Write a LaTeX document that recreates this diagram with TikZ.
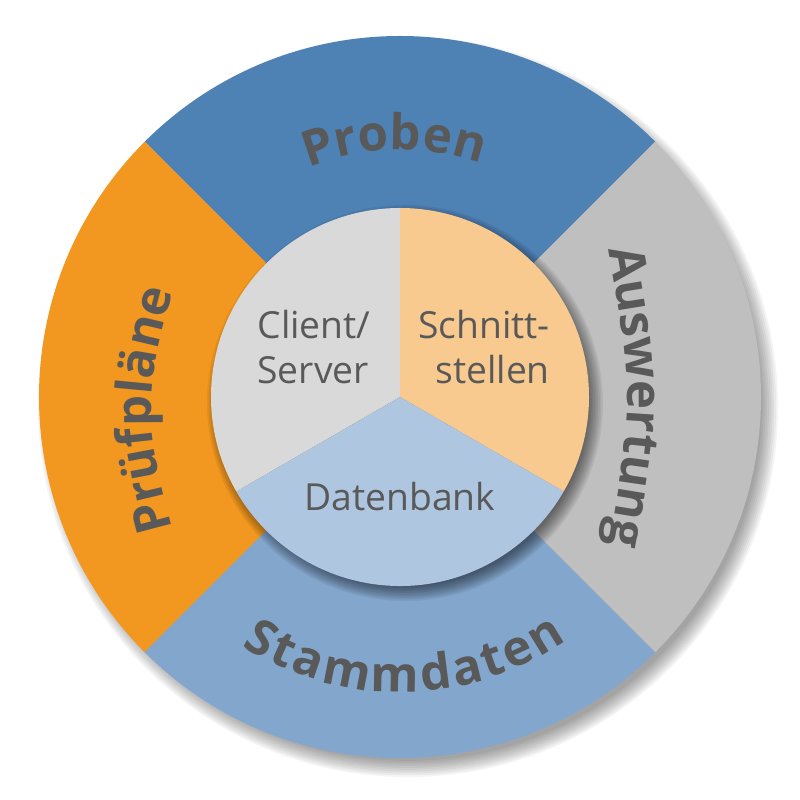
\documentclass[tikz,border=0pt]{standalone}
\usepackage{fontspec}
\setmainfont{Open Sans}
\usepackage{tikz}
\usetikzlibrary{decorations.text}
\definecolor{probenblue}{HTML}{4E81B4}
\definecolor{stammblue}{HTML}{83A6CC}
\definecolor{auswgray}{HTML}{BFBFBF}
\definecolor{pruforange}{HTML}{F2971F}
\definecolor{clientgray}{HTML}{D9D9D9}
\definecolor{schnittorange}{HTML}{F8CA8F}
\definecolor{datenblue}{HTML}{AEC6DF}
\definecolor{txtgray}{HTML}{595959}

\begin{document}
\begin{tikzpicture}[
  ringtext/.style={decorate,decoration={text along path,text align=center,text color=txtgray,
    text={|\fontsize{14}{17}\selectfont\bfseries|#1}}},
  innertext/.style={font=\fontsize{10.6}{12.9}\selectfont,text=txtgray,inner sep=0pt}]
\useasboundingbox (-4,-4.03) rectangle (4,3.97);
% soft shadows
\foreach \i in {1,...,10} \fill[black,opacity=0.045] (0.08,-0.10) circle ({3.52+\i*0.018});
\fill[probenblue] (0,0) -- (45:3.61) arc[start angle=45,end angle=135,radius=3.61] -- cycle;
\fill[pruforange] (0,0) -- (135:3.61) arc[start angle=135,end angle=225,radius=3.61] -- cycle;
\fill[stammblue] (0,0) -- (225:3.61) arc[start angle=225,end angle=315,radius=3.61] -- cycle;
\fill[auswgray] (0,0) -- (315:3.61) arc[start angle=315,end angle=405,radius=3.61] -- cycle;
\foreach \i in {1,...,10} \fill[black,opacity=0.06] (0.05,-0.06) circle ({1.82+\i*0.016});
\fill[clientgray] (0,0) -- (90:1.89) arc[start angle=90,end angle=210,radius=1.89] -- cycle;
\fill[schnittorange] (0,0) -- (90:1.89) arc[start angle=90,end angle=-30,radius=1.89] -- cycle;
\fill[datenblue] (0,0) -- (210:1.89) arc[start angle=210,end angle=330,radius=1.89] -- cycle;
% ring labels
\path[ringtext=Proben] (181.3:2.47) arc[start angle=181.3,end angle=1.3,radius=2.47];
\path[ringtext=Auswertung] (2.05,1.7) .. controls (2.35,0) .. (2.05,-1.7);
\path[ringtext=Stammdaten,decoration={text align=fit to path}] (237.5:2.95) arc[start angle=237.5,end angle=304.5,radius=2.95];
\path[ringtext=Prüfpläne] (-2.13,-1.83) .. controls (-2.61,-0.13) .. (-2.13,1.57);
% inner labels
\node[innertext,align=left] (client) at (-0.86,0.50) {Client/\\Server};
\node[innertext,align=right] (schnitt) at (0.84,0.50) {Schnitt-\\stellen};
\node[innertext] (daten) at (0,-1.00) {Datenbank};
\end{tikzpicture}
\end{document}
